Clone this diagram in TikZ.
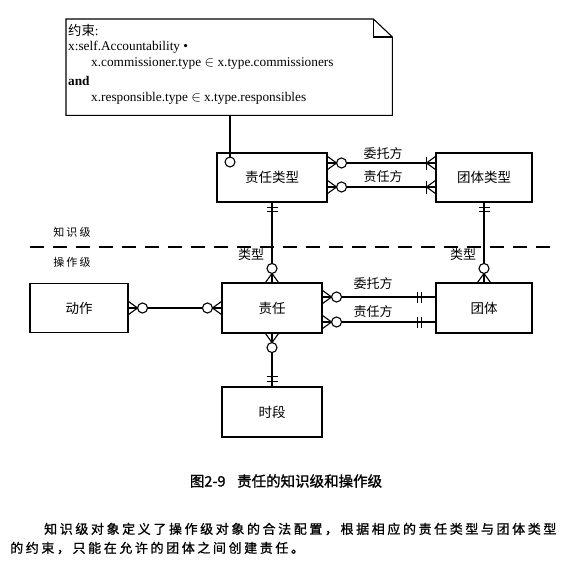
\documentclass[tikz,border=0pt]{standalone}
\usepackage{fontspec}
\setmainfont{Liberation Serif}
\newfontfamily\cjk{Noto Sans CJK SC}
\newfontfamily\cjkb[FakeBold=1.2]{Noto Sans CJK SC}
\newfontfamily\cjkp[LetterSpace=20,FakeBold=1]{Noto Sans CJK SC}
\newfontfamily\cjkl[LetterSpace=20]{Noto Sans CJK SC}
\usetikzlibrary{calc}
\tikzset{
  con/.style={line width=1.1pt},
  ent/.style={draw, line width=1.1pt, inner sep=0pt, font=\cjk\fontsize{13.5}{16}\selectfont},
  lbl/.style={inner sep=0pt, font=\cjk\fontsize{13}{15}\selectfont},
  lvl/.style={inner sep=0pt, font=\cjkl\fontsize{11}{13}\selectfont},
  notetxt/.style={inner sep=0pt, anchor=west, font=\fontsize{13.3}{15}\selectfont},
}
\newcommand{\mnyend}[2]{%
  \begin{scope}[shift={(#1)},rotate=#2]
    \draw[con] (0,6.5) -- (9,0) -- (0,-6.5);
    \draw[con,fill=white] (14,0) circle[radius=5];
  \end{scope}}
\newcommand{\crowbar}[2]{%
  \begin{scope}[shift={(#1)},rotate=#2]
    \draw[con] (0,6.5) -- (9,0) -- (0,-6.5);
    \draw[con] (9,-6.5) -- (9,6.5);
  \end{scope}}
\newcommand{\tickat}[3]{%
  \begin{scope}[shift={(#1)},rotate=#2]
    \draw[con] (#3,-5.5) -- (#3,5.5);
  \end{scope}}
\begin{document}
\begin{tikzpicture}[x=1pt,y=-1pt]
\useasboundingbox (0,0) rectangle (578,565);
\fill[white] (0,0) rectangle (578,565);

% note
\node[minimum width=326pt, minimum height=96pt, inner sep=0pt, anchor=north west] (note) at (66,19) {};
\draw[con] (note.north west) -- ($(note.north east)+(-19,0)$) -- ($(note.north east)+(0,18)$) -- (note.south east) -- (note.south west) -- cycle;
\draw[con] ($(note.north east)+(-19,0)$) |- ($(note.north east)+(0,18)$);
\node[notetxt] (t1) at (68,30) {{\cjk 约束}:};
\node[notetxt] (t2) at (68,47) {x:self.Accountability •};
\node[notetxt] (t3) at (91,64) {x.commissioner.type $\in$ x.type.commissioners};
\node[notetxt] (t4) at (68,81) {\bfseries and};
\node[notetxt] (t5) at (91,98) {x.responsible.type $\in$ x.type.responsibles};

% entities
\node[ent, minimum width=110pt, minimum height=49pt] (rt) at (272,177.5) {责任类型};
\node[ent, minimum width=96pt, minimum height=49pt] (tt) at (484,177.5) {团体类型};
\node[ent, minimum width=100pt, minimum height=50pt] (zr) at (272,308) {责任};
\node[ent, minimum width=98pt, minimum height=49pt] (dz) at (79,308) {动作};
\node[ent, minimum width=96pt, minimum height=50pt] (tz) at (484,308) {团体};
\node[ent, minimum width=100pt, minimum height=50pt] (sd) at (272,412) {时段};

% level separator
\draw[line width=1.1pt, dash pattern=on 14pt off 9pt] (30,247) -- (556,247);
\node[lvl] (k1) at (72,232) {知识级};
\node[lvl] (k2) at (72,262) {操作级};

% note -> 责任类型
\coordinate (nc) at (230,162);
\draw[con] (note.south -| nc) -- (nc);
\draw[con,fill=white] (nc) circle[radius=5];

% 责任类型 -- 团体类型
\coordinate (a1) at ($(rt.east)+(0,-14.5)$);
\coordinate (a2) at ($(rt.east)+(0,9.5)$);
\coordinate (b1) at ($(tt.west)+(0,-14.5)$);
\coordinate (b2) at ($(tt.west)+(0,9.5)$);
\draw[con] (a1) -- (b1);
\draw[con] (a2) -- (b2);
\mnyend{a1}{0}
\mnyend{a2}{0}
\crowbar{b1}{180}
\crowbar{b2}{180}
\node[lbl] (l1) at (383,154) {委托方};
\node[lbl] (l2) at (383,177) {责任方};

% 责任类型 -- 责任
\draw[con] (rt.south) -- (zr.north);
\tickat{rt.south}{-90}{5}
\tickat{rt.south}{-90}{9}
\mnyend{zr.north}{90}
\node[lbl] (y1) at (251,255) {类型};

% 团体类型 -- 团体
\draw[con] (tt.south) -- (tz.north);
\tickat{tt.south}{-90}{5}
\tickat{tt.south}{-90}{9}
\mnyend{tz.north}{90}
\node[lbl] (y2) at (463,255) {类型};

% 动作 -- 责任
\draw[con] (dz.east) -- (zr.west);
\mnyend{dz.east}{0}
\mnyend{zr.west}{180}

% 责任 -- 团体
\coordinate (c1) at ($(zr.east)+(0,-11)$);
\coordinate (c2) at ($(zr.east)+(0,14)$);
\coordinate (d1) at ($(tz.west)+(0,-11)$);
\coordinate (d2) at ($(tz.west)+(0,14)$);
\draw[con] (c1) -- (d1);
\draw[con] (c2) -- (d2);
\mnyend{c1}{0}
\mnyend{c2}{0}
\tickat{d1}{180}{14}
\tickat{d1}{180}{18}
\tickat{d2}{180}{14}
\tickat{d2}{180}{18}
\node[lbl] (l3) at (373,284) {委托方};
\node[lbl] (l4) at (373,312) {责任方};

% 责任 -- 时段
\draw[con] (zr.south) -- (sd.north);
\mnyend{zr.south}{-90}
\tickat{sd.north}{90}{5}
\tickat{sd.north}{90}{10}

% caption and paragraph
\node[inner sep=0pt, font=\cjkb\fontsize{14.5}{17}\selectfont] (cap) at (286,481) {图2-9\hspace{0.8em}责任的知识级和操作级};
\node[inner sep=0pt, anchor=west, font=\cjkp\fontsize{13}{15}\selectfont] (p1) at (44,529) {知识级对象定义了操作级对象的合法配置，根据相应的责任类型与团体类型};
\node[inner sep=0pt, anchor=west, font=\cjkp\fontsize{13}{15}\selectfont] (p2) at (10,548) {的约束，只能在允许的团体之间创建责任。};
\end{tikzpicture}
\end{document}
